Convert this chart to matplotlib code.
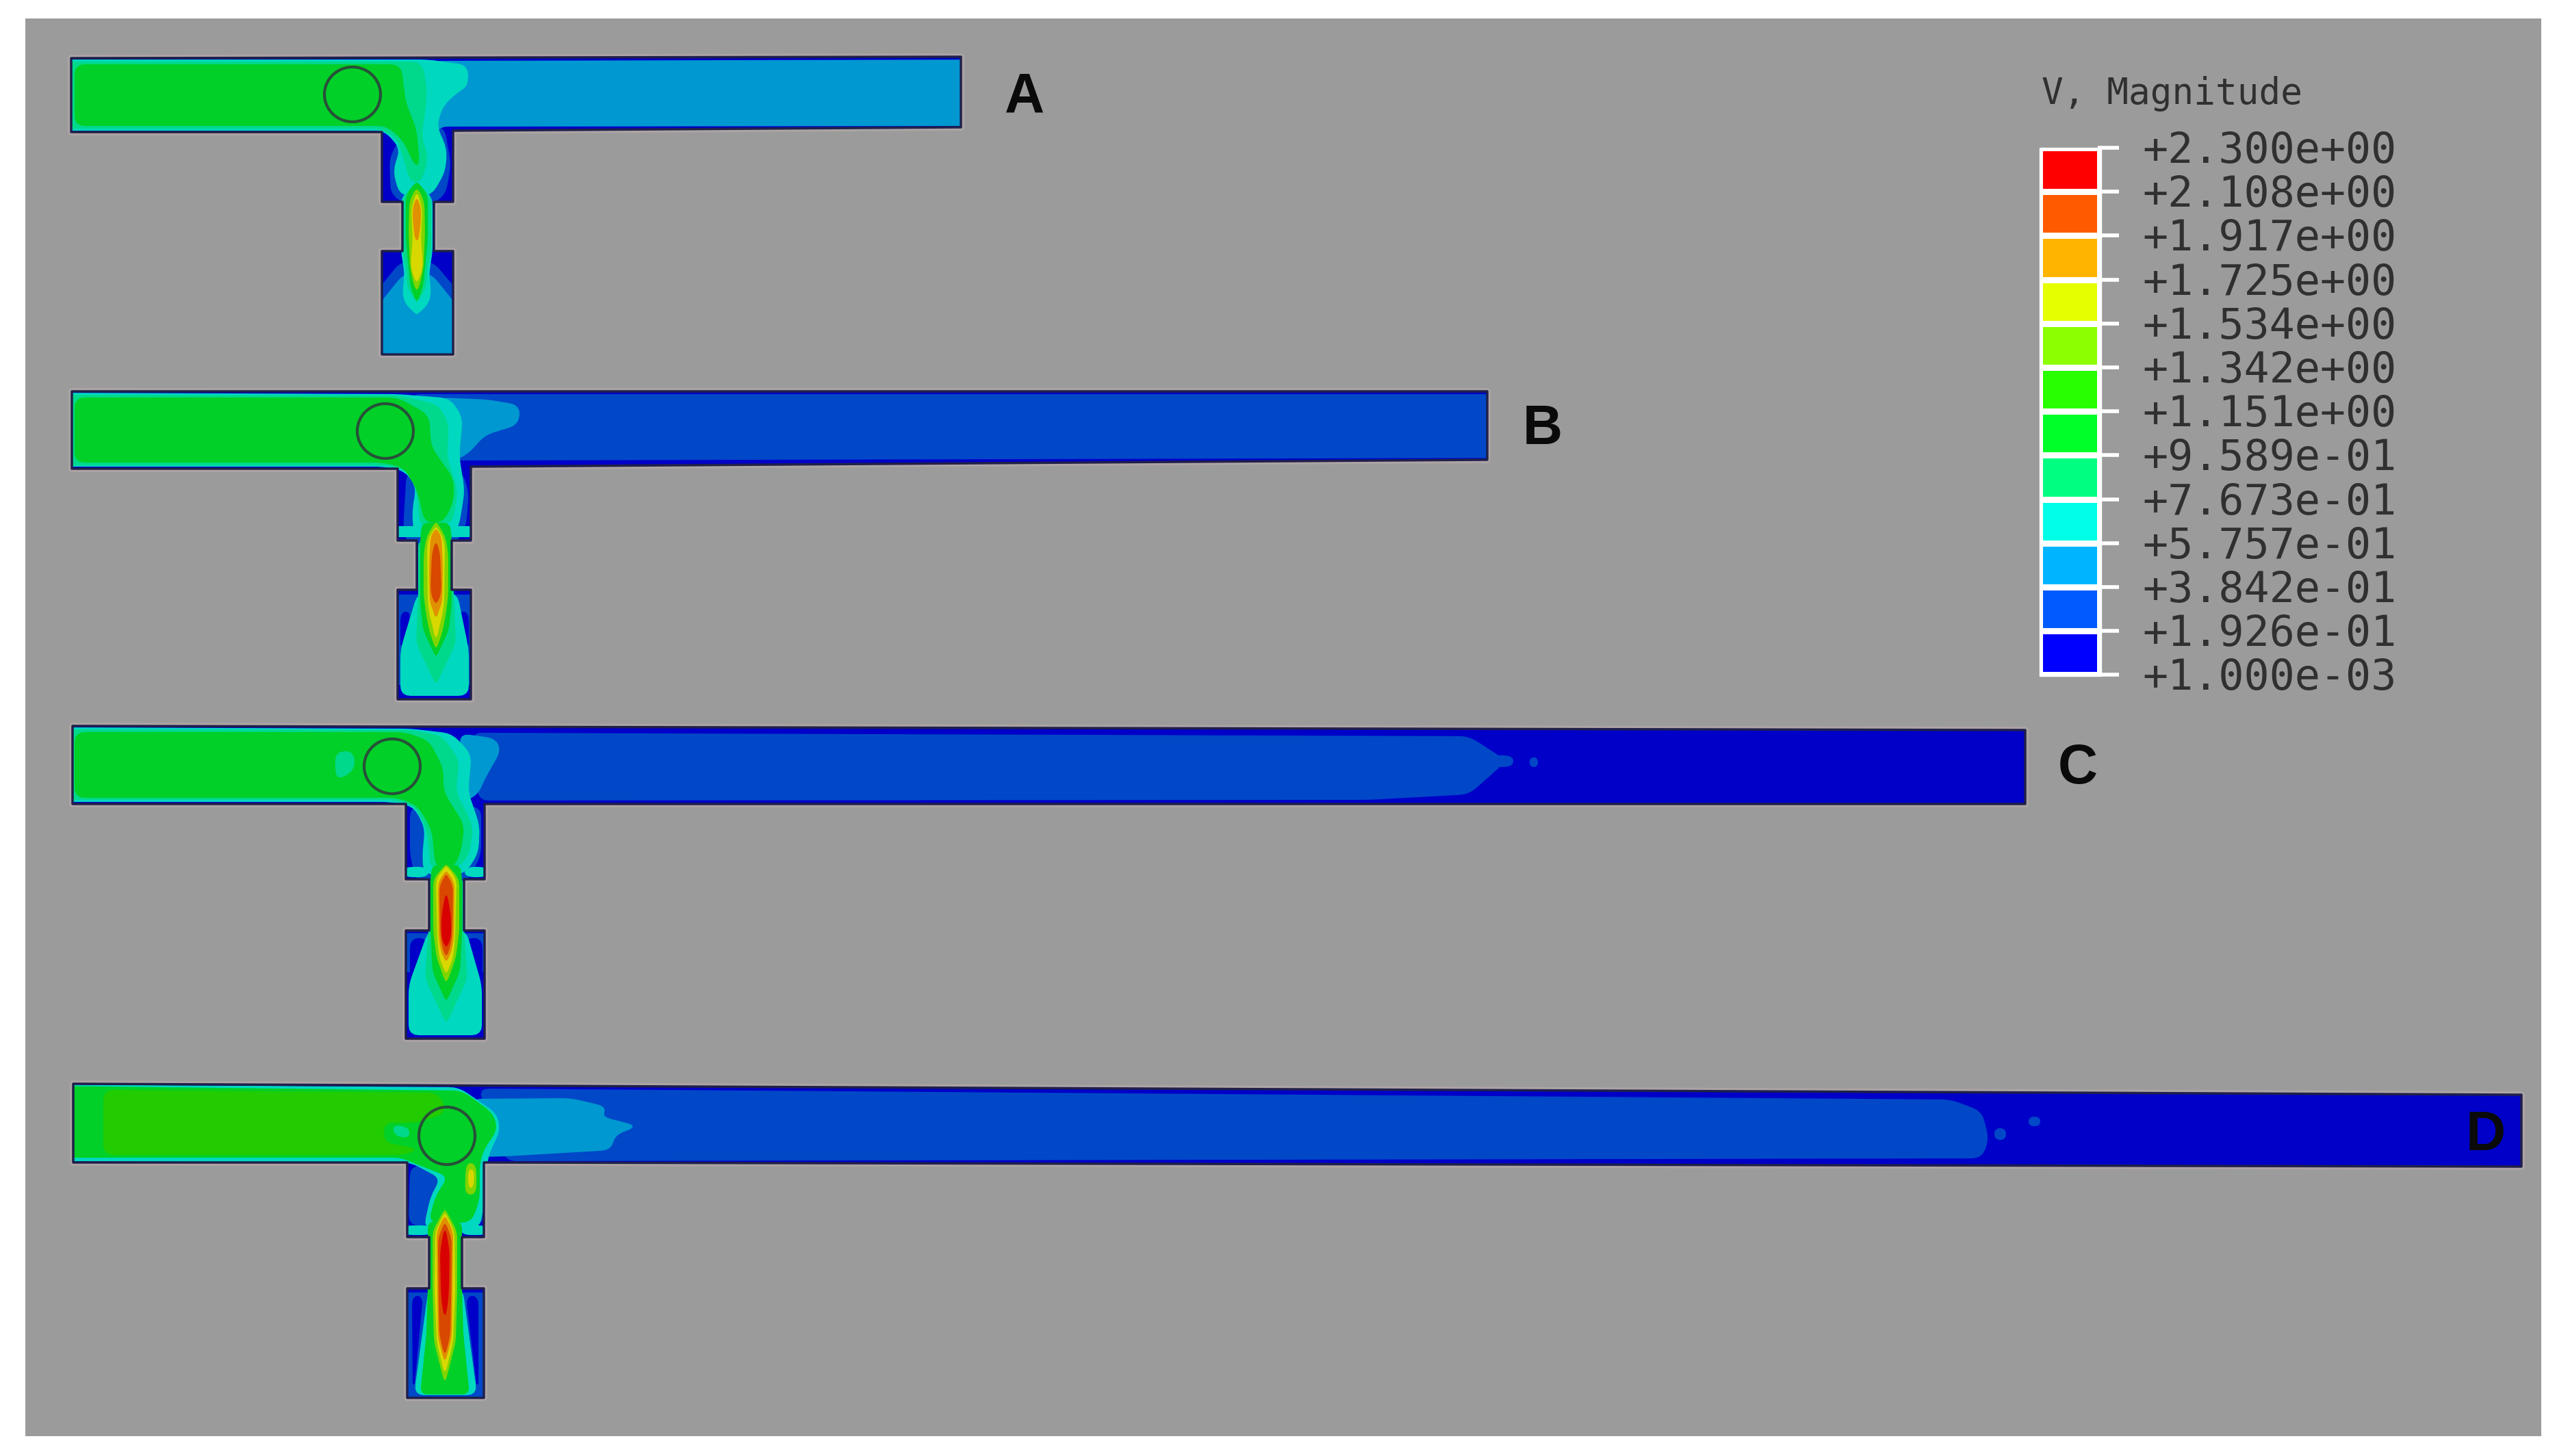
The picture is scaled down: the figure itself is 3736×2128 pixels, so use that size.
import numpy as np
import matplotlib
matplotlib.use("Agg")
import matplotlib.pyplot as plt
from matplotlib.patches import Ellipse, Polygon, Rectangle

W, H = 3737, 2128

# legend
legend_title = "V, Magnitude"
legend_labels = ["+2.300e+00", "+2.108e+00", "+1.917e+00", "+1.725e+00", "+1.534e+00",
                 "+1.342e+00", "+1.151e+00", "+9.589e-01", "+7.673e-01", "+5.757e-01",
                 "+3.842e-01", "+1.926e-01", "+1.000e-03"]
legend_colors = ["#ff0000", "#ff5a00", "#ffb400", "#e6ff00", "#8cff00", "#28ff00",
                 "#00ff28", "#00ff80", "#00ffe6", "#00b4ff", "#005aff", "#0000ff"]

# contour colours
dark = "#0000c8"
mid = "#0048c8"
blue = "#0098d0"
cyan = "#00d8c0"
teal = "#00d88c"
green = "#00d028"
dgreen = "#22cc00"
lime = "#80d400"
yellow = "#d8d800"
orange = "#e09000"
redor = "#d84800"
red = "#d80000"

names = ["A", "B", "C", "D"]
name_xy = [(1497, 142), (2254, 628), (3036, 1124), (3632, 1660)]
circles = [(515, 138, 41, 40), (563, 630, 41, 40), (573, 1120, 41, 40), (653, 1660, 41, 42)]
jet_x = [609, 637, 652, 650]

outline_a = [(104, 85), (1404, 83), (1404, 186), (662, 191), (662, 295), (634, 295), (634, 367),
             (662, 367), (662, 518), (558, 518), (558, 367), (588, 367), (588, 295), (558, 295),
             (558, 193), (104, 193)]
outline_b = [(105, 572), (2173, 572), (2173, 672), (688, 682), (688, 790), (660, 790), (660, 862),
             (688, 862), (688, 1022), (581, 1022), (581, 862), (609, 862), (609, 790), (581, 790),
             (581, 685), (105, 685)]
outline_c = [(106, 1061), (2959, 1067), (2959, 1175), (708, 1175), (708, 1285), (678, 1285),
             (678, 1360), (708, 1360), (708, 1518), (593, 1518), (593, 1360), (627, 1360),
             (627, 1285), (593, 1285), (593, 1175), (106, 1175)]
outline_d = [(107, 1584), (3684, 1600), (3684, 1705), (707, 1699), (707, 1808), (675, 1808),
             (675, 1883), (707, 1883), (707, 2043), (595, 2043), (595, 1883), (627, 1883),
             (627, 1808), (595, 1808), (595, 1699), (107, 1699)]
outlines = [outline_a, outline_b, outline_c, outline_d]

regions_a = [
    (mid, [(590, 195), (570, 230), (572, 285), (600, 300), (625, 300), (650, 285), (658, 240), (648, 185)]),
    (blue, [(630, 90), (1500, 88), (1500, 183), (640, 184), (628, 210)]),
    (mid, [(586, 383), (540, 440), (540, 540), (680, 540), (680, 440), (632, 383)]),
    (blue, [(591, 400), (535, 470), (535, 540), (685, 540), (685, 470), (629, 400)]),
    (cyan, [(60, 88), (625, 88), (683, 96), (683, 125), (670, 133), (647, 153), (637, 184), (652, 217),
            (650, 250), (630, 285), (585, 285), (575, 250), (586, 217), (562, 190), (60, 190)]),
    (teal, [(60, 91), (615, 91), (622, 120), (622, 150), (615, 200), (625, 230), (615, 265), (600, 265),
            (590, 230), (580, 200), (555, 187), (60, 187)]),
    (green, [(110, 95), (585, 95), (592, 150), (608, 190), (612, 240), (606, 240), (590, 205), (565, 183), (110, 183)]),
]
regions_b = [
    (mid, [(600, 577), (2300, 577), (2300, 668), (680, 672), (660, 672)]),
    (blue, [(640, 582), (713, 585), (759, 593), (757, 620), (708, 635), (683, 663), (660, 674)]),
    (mid, [(595, 690), (592, 740), (590, 775), (600, 800), (660, 800), (680, 770), (684, 720), (675, 690)]),
    (cyan, [(550, 770), (625, 770), (625, 784), (550, 784)]),
    (cyan, [(650, 770), (720, 770), (720, 784), (650, 784)]),
    (mid, [(560, 870), (640, 870), (720, 870), (720, 1000), (560, 1000)]),
    (dark, [(586, 895), (600, 895), (586, 950)]),
    (dark, [(684, 895), (670, 895), (684, 950)]),
    (cyan, [(611, 867), (586, 950), (586, 1016), (684, 1016), (684, 950), (667, 867)]),
    (cyan, [(60, 575), (581, 577), (657, 583), (675, 610), (670, 667), (678, 717), (670, 767), (660, 783),
            (606, 783), (603, 750), (609, 710), (591, 687), (560, 681), (60, 681)]),
    (teal, [(60, 578), (581, 579), (640, 592), (655, 620), (652, 667), (668, 717), (660, 765), (615, 770),
            (610, 717), (595, 685), (560, 679), (60, 679)]),
    (green, [(110, 582), (581, 582), (626, 607), (629, 653), (662, 700), (662, 733), (647, 763), (621, 763),
             (611, 717), (591, 683), (560, 675), (110, 675)]),
]
regions_c = [
    (mid, [(690, 1072), (2146, 1077), (2200, 1112), (2146, 1160), (2000, 1168), (700, 1169)]),
    (mid, [(2160, 1105), (2210, 1105), (2210, 1120), (2160, 1120)]),
    (mid, [(2236, 1108), (2246, 1108), (2246, 1120), (2236, 1120)]),
    (blue, [(672, 1073), (723, 1080), (731, 1097), (708, 1137), (698, 1160), (680, 1170)]),
    (mid, [(600, 1180), (600, 1250), (610, 1290), (680, 1290), (702, 1250), (702, 1180)]),
    (cyan, [(590, 1268), (625, 1268), (625, 1281), (590, 1281)]),
    (cyan, [(680, 1268), (712, 1268), (712, 1281), (680, 1281)]),
    (mid, [(620, 1365), (580, 1365), (580, 1420), (720, 1420), (720, 1365)]),
    (dark, [(600, 1372), (625, 1372), (600, 1440)]),
    (dark, [(704, 1372), (680, 1372), (704, 1440)]),
    (cyan, [(627, 1360), (598, 1440), (598, 1512), (703, 1512), (703, 1440), (680, 1360)]),
    (cyan, [(60, 1064), (600, 1066), (660, 1073), (688, 1103), (683, 1157), (700, 1207), (698, 1247), (678, 1277),
            (620, 1277), (618, 1250), (622, 1210), (605, 1178), (570, 1171), (60, 1171)]),
    (teal, [(60, 1067), (600, 1068), (645, 1076), (670, 1110), (665, 1157), (690, 1207), (685, 1250), (665, 1270),
            (630, 1270), (625, 1213), (607, 1177), (575, 1168), (60, 1168)]),
    (green, [(110, 1071), (591, 1071), (626, 1083), (647, 1123), (647, 1157), (678, 1207), (672, 1247), (662, 1267),
             (637, 1267), (632, 1213), (611, 1177), (581, 1165), (110, 1165)]),
    (teal, [(490, 1100), (516, 1098), (518, 1125), (492, 1140)]),
]
regions_d = [
    (mid, [(700, 1592), (2850, 1608), (2895, 1625), (2905, 1665), (2895, 1692), (740, 1696)]),
    (mid, [(2915, 1650), (2930, 1650), (2930, 1665), (2915, 1665)]),
    (mid, [(2965, 1633), (2980, 1633), (2980, 1645), (2965, 1645)]),
    (blue, [(688, 1607), (834, 1606), (885, 1618), (879, 1633), (930, 1646), (898, 1658), (892, 1680), (739, 1689), (700, 1690)]),
    (mid, [(600, 1705), (598, 1790), (705, 1790), (705, 1705)]),
    (cyan, [(590, 1792), (630, 1792), (630, 1804), (590, 1804)]),
    (cyan, [(675, 1792), (712, 1792), (712, 1804), (675, 1804)]),
    (mid, [(620, 1890), (578, 1890), (578, 2060), (720, 2060), (720, 1890)]),
    (dark, [(603, 1895), (617, 1895), (604, 2030)]),
    (dark, [(698, 1895), (682, 1895), (698, 2030)]),
    (cyan, [(627, 1883), (606, 2038), (696, 2038), (675, 1883)]),
    (cyan, [(60, 1586), (670, 1590), (725, 1628), (730, 1651), (712, 1690), (706, 1760), (700, 1795), (620, 1795),
            (630, 1749), (645, 1722), (600, 1698), (60, 1696)]),
    (green, [(60, 1588), (675, 1595), (720, 1628), (726, 1651), (707, 1678), (700, 1699), (700, 1753), (688, 1786),
             (627, 1786), (637, 1749), (656, 1719), (605, 1699), (586, 1691), (60, 1691)]),
    (dgreen, [(152, 1594), (640, 1598), (652, 1625), (610, 1640), (560, 1640), (560, 1670), (610, 1680), (590, 1687), (152, 1687)]),
    (teal, [(574, 1645), (596, 1648), (598, 1662), (578, 1660)]),
    (lime, [(682, 1700), (695, 1702), (695, 1745), (680, 1745)]),
    (yellow, [(685, 1710), (692, 1710), (691, 1735), (685, 1735)]),
]
regions = [regions_a, regions_b, regions_c, regions_d]

# jet bands: colour, y, half width
jets_a = [
    (cyan, [272, 290, 367, 400, 430, 445, 458], [5, 22, 22, 17, 20, 15, 1]),
    (teal, [272, 290, 367, 395, 420, 440], [5, 20, 20, 14, 13, 1]),
    (green, [268, 285, 350, 390, 420, 438], [2, 15, 15, 11, 8, 1]),
    (lime, [278, 295, 340, 390, 410, 422], [2, 10, 11, 9, 5, 1]),
    (yellow, [285, 305, 350, 385, 400, 410], [1, 7, 5, 8, 5, 1]),
    (orange, [292, 305, 320, 340, 350], [1, 5, 5, 3, 1]),
]
jets_b = [
    (teal, [790, 870, 940, 997], [25, 25, 28, 1]),
    (green, [765, 790, 880, 920, 957], [20, 22, 22, 18, 1]),
    (lime, [765, 785, 810, 870, 900, 925, 945], [1, 13, 17, 17, 13, 8, 1]),
    (yellow, [772, 785, 800, 880, 900, 915, 930], [1, 9, 12, 11, 8, 4, 1]),
    (orange, [775, 785, 830, 880, 890, 900], [1, 7, 9, 8, 4, 1]),
    (redor, [795, 810, 860, 872, 880], [1, 5, 7, 5, 1]),
]
jets_c = [
    (teal, [1285, 1360, 1430, 1492], [25, 25, 30, 1]),
    (green, [1265, 1285, 1360, 1420, 1460], [20, 22, 22, 19, 1]),
    (lime, [1265, 1285, 1360, 1400, 1433], [1, 18, 18, 13, 1]),
    (yellow, [1268, 1285, 1370, 1400, 1420], [1, 14, 12, 9, 1]),
    (orange, [1275, 1290, 1370, 1390, 1403], [1, 11, 10, 7, 1]),
    (redor, [1280, 1295, 1360, 1380, 1395], [1, 9, 8, 6, 1]),
    (red, [1310, 1340, 1370, 1382], [1, 6, 6, 1]),
]
jets_d = [
    (green, [1786, 1883, 1950, 2037], [24, 24, 26, 35]),
    (lime, [1770, 1800, 1883, 1960, 2016], [1, 17, 17, 15, 1]),
    (yellow, [1775, 1800, 1883, 1960, 2003], [1, 13, 14, 11, 1]),
    (orange, [1780, 1800, 1883, 1955, 1986], [1, 11, 10, 9, 1]),
    (redor, [1790, 1810, 1900, 1950, 1976], [1, 9, 8, 7, 1]),
    (red, [1800, 1830, 1880, 1900, 1920], [1, 6, 5, 4, 1]),
]
jets = [jets_a, jets_b, jets_c, jets_d]


def rounded(pts, r=14, steps=5):
    # replace each corner with a small curve of fixed size
    p = np.array(pts, dtype=float)
    out = []
    n = len(p)
    for i in range(n):
        a, b, c = p[i - 1], p[i], p[(i + 1) % n]
        la = np.hypot(*(a - b))
        lc = np.hypot(*(c - b))
        s = b + (a - b) * min(r, la / 2) / la
        e = b + (c - b) * min(r, lc / 2) / lc
        for t in np.linspace(0, 1, steps):
            out.append((1 - t) ** 2 * s + 2 * t * (1 - t) * b + t ** 2 * e)
    return np.array(out)


fig = plt.figure(figsize=(W / 100, H / 100), dpi=100, facecolor="white")
ax = fig.add_axes([0, 0, 1, 1])
ax.set_xlim(0, W)
ax.set_ylim(H, 0)
ax.axis("off")
ax.add_patch(Rectangle((37, 27), 3713 - 37, 2099 - 27, fc="#9b9b9b", ec="none"))

for i in range(4):
    halo = Polygon(outlines[i], closed=True, fc="none", ec="#aca4a4", lw=7, joinstyle="round")
    ax.add_patch(halo)
    base = Polygon(outlines[i], closed=True, fc=dark, ec="none")
    ax.add_patch(base)
    for col, pts in regions[i]:
        p = Polygon(rounded(pts), closed=True, fc=col, ec=col, lw=1.5)
        ax.add_patch(p)
        p.set_clip_path(base)
    for col, ys, hw in jets[i]:
        ys = np.array(ys, dtype=float)
        hw = np.array(hw, dtype=float)
        left = np.column_stack([jet_x[i] - hw, ys])
        right = np.column_stack([jet_x[i] + hw, ys])[::-1]
        p = Polygon(rounded(np.vstack([left, right]), r=10), closed=True, fc=col, ec=col, lw=1.5)
        ax.add_patch(p)
        p.set_clip_path(base)
    ax.add_patch(Polygon(outlines[i], closed=True, fc="none", ec="#20204a", lw=2.5, joinstyle="round"))
    cx, cy, rx, ry = circles[i]
    ax.add_patch(Ellipse((cx, cy), 2 * rx, 2 * ry, fc="none", ec="#285038", lw=3))
    ax.text(name_xy[i][0], name_xy[i][1], names[i], fontsize=58, fontweight="bold", family="Liberation Sans",
            color="#0a0a0a", ha="center", va="center")

# legend
x0, x1, x2 = 2983, 3070, 3096
y0 = 216
dy = 64.2
ax.add_patch(Rectangle((x0 - 3, y0), x1 - x0 + 3, dy * 12 + 2, fc="white", ec="white", lw=1))
for i, c in enumerate(legend_colors):
    ax.add_patch(Rectangle((x0 + 2, y0 + i * dy + 5), x1 - x0 - 8, dy - 9, fc=c, ec="none"))
for i, lab in enumerate(legend_labels):
    y = y0 + i * dy
    ax.plot([x1 - 5, x2], [y, y], color="white", lw=4, solid_capstyle="butt")
    ax.text(3130, y + 5, lab, fontsize=44.5, family="DejaVu Sans Mono", color="#303030", ha="left", va="center")
ax.text(2983, 137, legend_title, fontsize=38, family="DejaVu Sans Mono", color="#303030", ha="left", va="center")

fig.savefig("out.png", dpi=100)
